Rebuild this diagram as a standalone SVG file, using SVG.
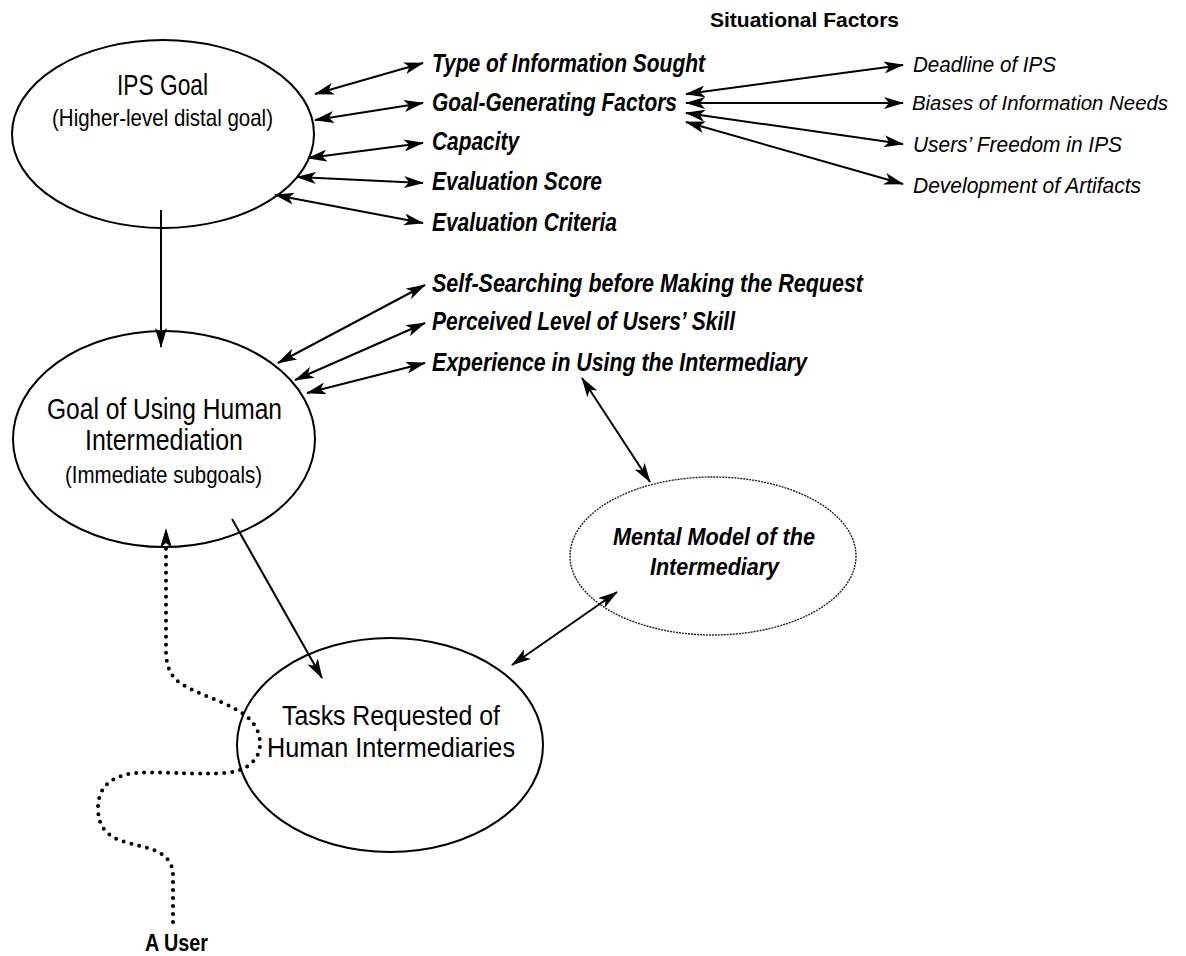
<svg xmlns="http://www.w3.org/2000/svg" width="1186" height="956" viewBox="0 0 1186 956">
<style>
.node{fill:#fff;stroke:#000;stroke-width:2}
.mm{fill:#fff;stroke:#222;stroke-width:1.4;stroke-dasharray:2 1}
.t{font-family:"Liberation Sans",Arial,sans-serif;fill:#000}
.bi{font-weight:bold;font-style:italic;font-size:25px}
.it{font-style:italic;font-size:22px}
.c{stroke:#000;stroke-width:2;fill:none}
.dd{marker-start:url(#ah);marker-end:url(#ah)}
.se{marker-end:url(#ah)}
.dot{stroke:#000;stroke-width:4;fill:none;stroke-linecap:round;stroke-dasharray:0 8}
</style>
<defs>
<marker id="ah" viewBox="0 0 20 12" refX="19" refY="6" markerWidth="20" markerHeight="12" markerUnits="userSpaceOnUse" orient="auto-start-reverse">
<path d="M0,0 L20,6 L0,12 L5,6 z" fill="#000"/>
</marker>
</defs>

<g id="ips-goal">
<ellipse class="node" cx="163" cy="134" rx="151" ry="94"/>
<text class="t" x="117" y="95" font-size="29" textLength="91" lengthAdjust="spacingAndGlyphs">IPS Goal</text>
<text class="t" x="52" y="126" font-size="24" textLength="221" lengthAdjust="spacingAndGlyphs">(Higher-level distal goal)</text>
</g>

<g id="goal-human">
<ellipse class="node" cx="164" cy="439" rx="151" ry="108"/>
<text class="t" x="47" y="419" font-size="29" textLength="235" lengthAdjust="spacingAndGlyphs">Goal of Using Human</text>
<text class="t" x="85" y="450" font-size="29" textLength="158" lengthAdjust="spacingAndGlyphs">Intermediation</text>
<text class="t" x="65" y="483" font-size="24" textLength="197" lengthAdjust="spacingAndGlyphs">(Immediate subgoals)</text>
</g>

<g id="tasks">
<ellipse class="node" cx="390" cy="745" rx="153" ry="107"/>
<text class="t" x="282" y="725" font-size="28" textLength="218" lengthAdjust="spacingAndGlyphs">Tasks Requested of</text>
<text class="t" x="267" y="757" font-size="28" textLength="248" lengthAdjust="spacingAndGlyphs">Human Intermediaries</text>
</g>

<g id="mental-model">
<ellipse class="mm" cx="713" cy="556" rx="143" ry="79"/>
<text class="t bi" x="613" y="545" style="font-size:24px" textLength="202" lengthAdjust="spacingAndGlyphs">Mental Model of the</text>
<text class="t bi" x="650" y="575" style="font-size:24px" textLength="129" lengthAdjust="spacingAndGlyphs">Intermediary</text>
</g>

<g id="factors">
<text class="t bi" x="432" y="72" textLength="273" lengthAdjust="spacingAndGlyphs">Type of Information Sought</text>
<text class="t bi" x="432" y="111" textLength="245" lengthAdjust="spacingAndGlyphs">Goal-Generating Factors</text>
<text class="t bi" x="432" y="150" textLength="87" lengthAdjust="spacingAndGlyphs">Capacity</text>
<text class="t bi" x="432" y="190" textLength="170" lengthAdjust="spacingAndGlyphs">Evaluation Score</text>
<text class="t bi" x="432" y="231" textLength="185" lengthAdjust="spacingAndGlyphs">Evaluation Criteria</text>
<text class="t bi" x="432" y="292" textLength="431" lengthAdjust="spacingAndGlyphs">Self-Searching before Making the Request</text>
<text class="t bi" x="432" y="330" textLength="303" lengthAdjust="spacingAndGlyphs">Perceived Level of Users’ Skill</text>
<text class="t bi" x="432" y="371" textLength="375" lengthAdjust="spacingAndGlyphs">Experience in Using the Intermediary</text>
</g>

<g id="situational">
<text class="t" x="710" y="27" font-size="21" font-weight="bold" textLength="189" lengthAdjust="spacingAndGlyphs">Situational Factors</text>
<text class="t it" x="913" y="72" textLength="143" lengthAdjust="spacingAndGlyphs">Deadline of IPS</text>
<text class="t it" x="912" y="110" style="font-size:20.5px" textLength="256" lengthAdjust="spacingAndGlyphs">Biases of Information Needs</text>
<text class="t it" x="913" y="152" textLength="209" lengthAdjust="spacingAndGlyphs">Users’ Freedom in IPS</text>
<text class="t it" x="913" y="193" textLength="228" lengthAdjust="spacingAndGlyphs">Development of Artifacts</text>
</g>

<g id="user">
<text class="t" x="145" y="951" font-size="23" font-weight="bold" textLength="63" lengthAdjust="spacingAndGlyphs">A User</text>
</g>

<g id="connectors">
<line class="c dd" x1="315" y1="94" x2="423" y2="63"/>
<line class="c dd" x1="315" y1="120" x2="423" y2="103"/>
<line class="c dd" x1="308" y1="158" x2="423" y2="143"/>
<line class="c dd" x1="297" y1="177" x2="423" y2="183"/>
<line class="c dd" x1="275" y1="195" x2="423" y2="223"/>
<line class="c dd" x1="686" y1="94" x2="903" y2="65"/>
<line class="c dd" x1="686" y1="103" x2="903" y2="103"/>
<line class="c dd" x1="686" y1="113" x2="903" y2="144"/>
<line class="c dd" x1="686" y1="122" x2="903" y2="184"/>
<line class="c dd" x1="278" y1="363" x2="425" y2="285"/>
<line class="c dd" x1="295" y1="380" x2="425" y2="323"/>
<line class="c dd" x1="307" y1="393" x2="425" y2="363"/>
<line class="c dd" x1="582" y1="378" x2="650" y2="482"/>
<line class="c dd" x1="512" y1="665" x2="617" y2="592"/>
<line class="c se" x1="161" y1="210" x2="161" y2="347"/>
<line class="c se" x1="232" y1="519" x2="322" y2="678"/>
<path class="dot" d="M173,922 L173,875 C173,862 165,853 148,848 L125,842 C105,836 98,825 98,808 C98,788 110,776 135,773 C160,771 190,775 225,773 C250,771 261,757 260,742 C259,727 250,717 237,710 C220,700 195,693 180,683 C170,676 166,665 166,650 L166,548"/>
<path d="M166,528 L172,548 L166,543 L160,548 z" fill="#000"/>
</g>
</svg>
